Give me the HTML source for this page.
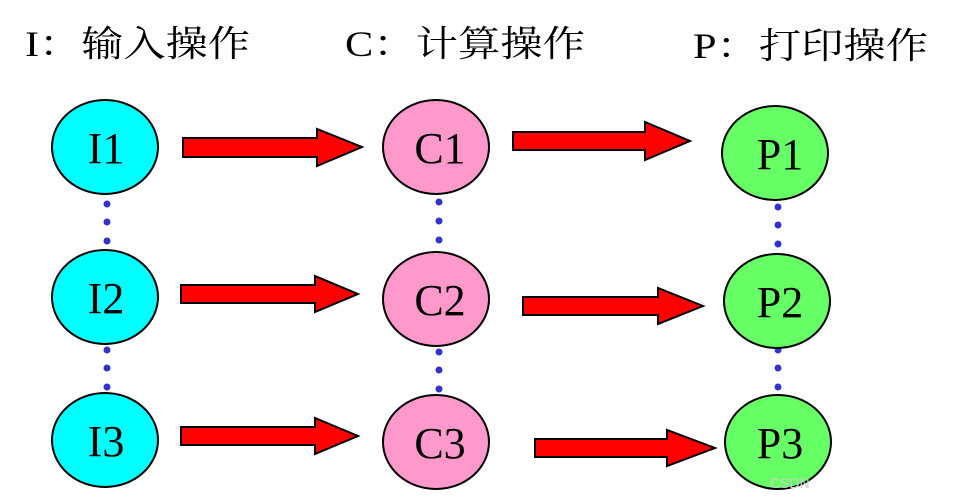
<!DOCTYPE html>
<html><head><meta charset="utf-8"><style>html,body{margin:0;padding:0;background:#fff}svg{display:block}</style></head>
<body>
<svg width="956" height="503" viewBox="0 0 956 503" xmlns="http://www.w3.org/2000/svg">
<g font-family="'Liberation Serif','Noto Serif CJK SC',serif" font-size="36" fill="#000">
<text x="25" y="56" textLength="225" lengthAdjust="spacingAndGlyphs">I：输入操作</text>
<text x="345" y="56" textLength="240" lengthAdjust="spacingAndGlyphs">C：计算操作</text>
<text x="693" y="58" textLength="235" lengthAdjust="spacingAndGlyphs">P：打印操作</text>
</g>
<g fill="#3333cc">
<circle cx="107" cy="204" r="3.5"/><circle cx="107" cy="222" r="3.5"/><circle cx="107" cy="241" r="3.5"/>
<circle cx="107" cy="350" r="3.5"/><circle cx="107" cy="368" r="3.5"/><circle cx="107" cy="387" r="3.5"/>
<circle cx="439" cy="202" r="3.5"/><circle cx="439" cy="221" r="3.5"/><circle cx="439" cy="240" r="3.5"/>
<circle cx="439" cy="352" r="3.5"/><circle cx="439" cy="370" r="3.5"/><circle cx="439" cy="389" r="3.5"/>
<circle cx="778" cy="207" r="3.5"/><circle cx="778" cy="225" r="3.5"/><circle cx="778" cy="244" r="3.5"/>
<circle cx="778" cy="350" r="3.5"/><circle cx="778" cy="368" r="3.5"/><circle cx="778" cy="387" r="3.5"/>
</g>
<g stroke="#000" stroke-width="2">
<ellipse cx="105" cy="147" rx="53" ry="47" fill="#00ffff"/>
<ellipse cx="105" cy="297" rx="53" ry="47" fill="#00ffff"/>
<ellipse cx="105" cy="440" rx="53" ry="47" fill="#00ffff"/>
<ellipse cx="436" cy="147" rx="53" ry="47" fill="#ff99cc"/>
<ellipse cx="436" cy="299" rx="53" ry="47" fill="#ff99cc"/>
<ellipse cx="436" cy="442" rx="53" ry="47" fill="#ff99cc"/>
<ellipse cx="775" cy="153" rx="53" ry="47" fill="#66ff66"/>
<ellipse cx="777" cy="301" rx="53" ry="47" fill="#66ff66"/>
<ellipse cx="778" cy="442" rx="53" ry="47" fill="#66ff66"/>
</g>
<g font-family="'Liberation Serif',serif" font-size="44" fill="#000" text-anchor="middle">
<text x="106" y="163">I1</text><text x="106" y="313">I2</text><text x="106" y="456">I3</text>
<text x="440" y="163">C1</text><text x="440" y="315">C2</text><text x="440" y="458">C3</text>
<text x="780" y="169">P1</text><text x="780" y="317">P2</text><text x="780" y="458">P3</text>
</g>
<g fill="#ff0000" stroke="#000" stroke-width="2" stroke-linejoin="miter">
<path d="M183 138 H317 V129 L362 147 L317 166 V157 H183 Z"/>
<path d="M513 132 H645 V122 L690 141 L645 160 V150 H513 Z"/>
<path d="M181 285 H315 V276 L358 294 L315 312 V303 H181 Z"/>
<path d="M523 297 H658 V288 L703 306 L658 324 V315 H523 Z"/>
<path d="M181 427 H315 V418 L358 436 L315 454 V445 H181 Z"/>
<path d="M535 439 H667 V430 L715 448 L667 466 V457 H535 Z"/>
</g>
<text x="770" y="488" font-family="'Liberation Sans',sans-serif" font-size="14" fill="#ccc">CSDN</text>
</svg>
</body></html>
